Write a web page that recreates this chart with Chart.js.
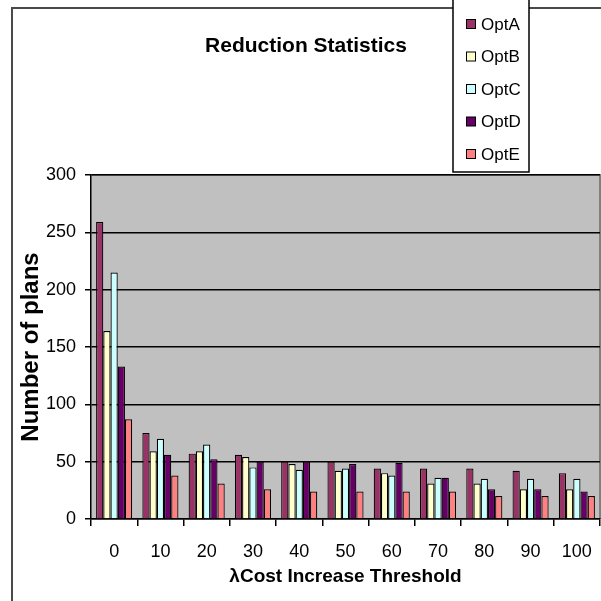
<!DOCTYPE html>
<html>
<head>
<meta charset="utf-8">
<script src="https://cdn.jsdelivr.net/npm/chart.js@4.4.0/dist/chart.umd.min.js"></script>
<style>
  html, body { margin: 0; padding: 0; background: #fff; }
  canvas { display: block; }
</style>
</head>
<body>
<canvas id="chart" width="601" height="601"></canvas>
<script>
const thresholds = ['0', '10', '20', '30', '40', '50', '60', '70', '80', '90', '100'];
const optA = [259, 75, 57, 56, 50, 50, 44, 44, 44, 42, 40];
const optB = [164, 59, 59, 54, 48, 42, 40, 31, 31, 26, 26];
const optC = [215, 70, 65, 45, 43, 44, 38, 36, 35, 35, 35];
const optD = [133, 56, 52, 50, 50, 48, 49, 36, 26, 26, 24];
const optE = [87, 38, 31, 26, 24, 24, 24, 24, 20, 20, 20];
const seriesNames = ['OptA', 'OptB', 'OptC', 'OptD', 'OptE'];
const seriesColors = ['#993366', '#ffffcc', '#ccffff', '#660066', '#ff8080'];

const sans = "'Liberation Sans', Arial, sans-serif";

// gray plot background + outer frame
const backdrop = {
    id: 'backdrop',
    beforeDraw(chart) {
        const { ctx, chartArea: a } = chart;
        ctx.save();
        ctx.fillStyle = '#c0c0c0';
        ctx.fillRect(a.left, a.top, a.right - a.left, a.bottom - a.top);
        ctx.strokeStyle = '#808080';
        ctx.lineWidth = 2;
        ctx.beginPath();
        ctx.moveTo(a.left, a.top);
        ctx.lineTo(a.right, a.top);
        ctx.lineTo(a.right, a.bottom);
        ctx.stroke();
        ctx.restore();
    },
    afterDraw(chart) {
        const ctx = chart.ctx;
        ctx.save();
        ctx.strokeStyle = '#4a4a4a';
        ctx.lineWidth = 2;
        ctx.beginPath();
        ctx.moveTo(12, 601);
        ctx.lineTo(12, 8);
        ctx.lineTo(601, 8);
        ctx.stroke();
        ctx.restore();
    }
};

// boxed legend in the top right corner
const boxLegend = {
    id: 'boxLegend',
    afterDraw(chart) {
        const ctx = chart.ctx;
        ctx.save();
        ctx.fillStyle = '#fff';
        ctx.fillRect(453, -2, 76, 174);
        ctx.strokeStyle = '#000';
        ctx.lineWidth = 1.5;
        ctx.strokeRect(453, -2, 76, 174);
        ctx.font = '17px ' + sans;
        ctx.textBaseline = 'middle';
        chart.data.datasets.forEach((ds, i) => {
            const y = 24 + i * 32.5;
            ctx.fillStyle = ds.backgroundColor;
            ctx.fillRect(466, y - 4.5, 9, 9);
            ctx.lineWidth = 1;
            ctx.strokeRect(466.5, y - 4.5, 9, 9);
            ctx.fillStyle = '#000';
            ctx.fillText(ds.label, 481, y + 1);
        });
        ctx.restore();
    }
};

const datasets = [optA, optB, optC, optD, optE].map((values, i) => ({
    label: seriesNames[i],
    data: values,
    backgroundColor: seriesColors[i],
    borderColor: '#000',
    borderWidth: 1.2,
    categoryPercentage: 0.78,
    barPercentage: 1.0
}));

new Chart(document.getElementById('chart'), {
    type: 'bar',
    data: { labels: thresholds, datasets: datasets },
    options: {
        responsive: false,
        animation: false,
        layout: { padding: { left: 12, right: 1, top: 0, bottom: 0 } },
        plugins: {
            legend: { display: false },
            tooltip: { enabled: false },
            title: {
                display: true,
                text: 'Reduction Statistics',
                color: '#000',
                font: { family: sans, size: 21, weight: 'bold' },
                padding: { top: 33.4, bottom: 116.4 }
            }
        },
        scales: {
            x: {
                grid: { drawOnChartArea: false, tickLength: 7, color: '#000', lineWidth: 1.5, offset: true },
                border: { color: '#000', width: 1.5 },
                // tall line height pushes the labels down without widening the side padding
                ticks: { color: '#000', font: { family: sans, size: 18, lineHeight: 2.5 }, padding: 4, maxRotation: 0 },
                title: {
                    display: true,
                    text: 'λCost Increase Threshold',
                    color: '#000',
                    font: { family: sans, size: 19, weight: 'bold' },
                    padding: { top: 0, bottom: 12.6 }
                },
                afterFit(scale) { scale.height = 82; }
            },
            y: {
                min: 0,
                max: 300,
                ticks: { stepSize: 50, color: '#000', font: { family: sans, size: 18 }, padding: 9 },
                grid: { color: '#000', lineWidth: 1.5, tickLength: 6 },
                border: { color: '#000', width: 1.5 },
                title: {
                    display: true,
                    text: 'Number of plans',
                    color: '#000',
                    font: { family: sans, size: 24, weight: 'bold' },
                    padding: { top: 4.6, bottom: 0 }
                },
                afterFit(scale) { scale.width = 79; }
            }
        }
    },
    plugins: [backdrop, boxLegend]
});
</script>
</body>
</html>
